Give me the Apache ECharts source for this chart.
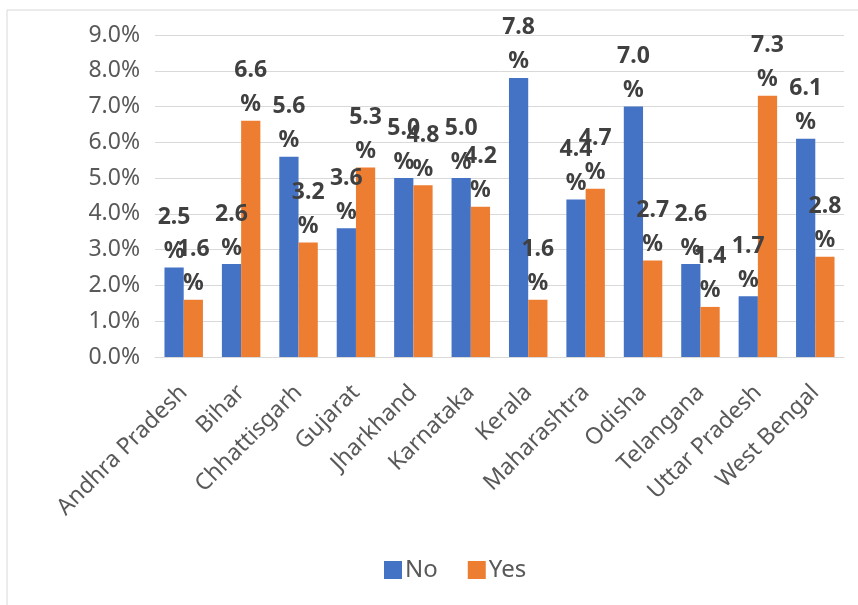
<!DOCTYPE html>
<html>
<head>
<meta charset="utf-8">
<script src="https://cdn.jsdelivr.net/npm/echarts@6/dist/echarts.min.js"></script>
<style>html,body{margin:0;padding:0;background:#fff}#c{width:858px;height:605px}</style>
</head>
<body>
<div id="c"></div>
<script>
const categories = ["Andhra Pradesh","Bihar","Chhattisgarh","Gujarat","Jharkhand","Karnataka","Kerala","Maharashtra","Odisha","Telangana","Uttar Pradesh","West Bengal"];
const noValues = [2.5,2.6,5.6,3.6,5.0,5.0,7.8,4.4,7.0,2.6,1.7,6.1];
const yesValues = [1.6,6.6,3.2,5.3,4.8,4.2,1.6,4.7,2.7,1.4,7.3,2.8];

const font = 'Noto Sans';
const chart = echarts.init(document.getElementById('c'));
const lbl = {
  show: true, position: 'top', distance: -1,
  formatter: p => p.value.toFixed(1) + '\n%',
  fontFamily: font, fontWeight: 'bold', fontSize: 23, lineHeight: 34, color: '#404040'
};
chart.setOption({
  animation: false,
  graphic: [{type:'rect', shape:{x:7,y:10,width:900,height:700}, style:{fill:'none', stroke:'#d9d9d9', lineWidth:1}, silent:true}],
  grid: {left:155, right:14, top:35, bottom:248, containLabel:false},
  legend: {
    data:['No','Yes'], bottom: 18, left: 379, itemWidth:18, itemHeight:18, itemGap:30,
    icon:'rect',
    textStyle:{fontFamily:font, fontSize:24, color:'#595959', padding:[0,0,0,-2]}
  },
  xAxis: {
    type:'category', data: categories,
    axisLine:{lineStyle:{color:'#d9d9d9'}}, axisTick:{show:false},
    axisLabel:{rotate:45, fontFamily:font, fontSize:23, color:'#595959', margin:32, interval:0}
  },
  yAxis: {
    type:'value', min:0, max:9, interval:1,
    axisLabel:{formatter: v => v.toFixed(1)+'%', fontFamily:font, fontSize:23, color:'#595959', margin:15, padding:[6,0,0,0]},
    splitLine:{lineStyle:{color:'#d9d9d9'}}, axisLine:{show:false}, axisTick:{show:false}
  },
  series: [
    {name:'No', type:'bar', data:noValues, itemStyle:{color:'#4472c4'}, barGap:'0%', barCategoryGap:'33%', label:lbl},
    {name:'Yes', type:'bar', data:yesValues, itemStyle:{color:'#ed7d31'}, label:lbl}
  ]
});
</script>
</body>
</html>
